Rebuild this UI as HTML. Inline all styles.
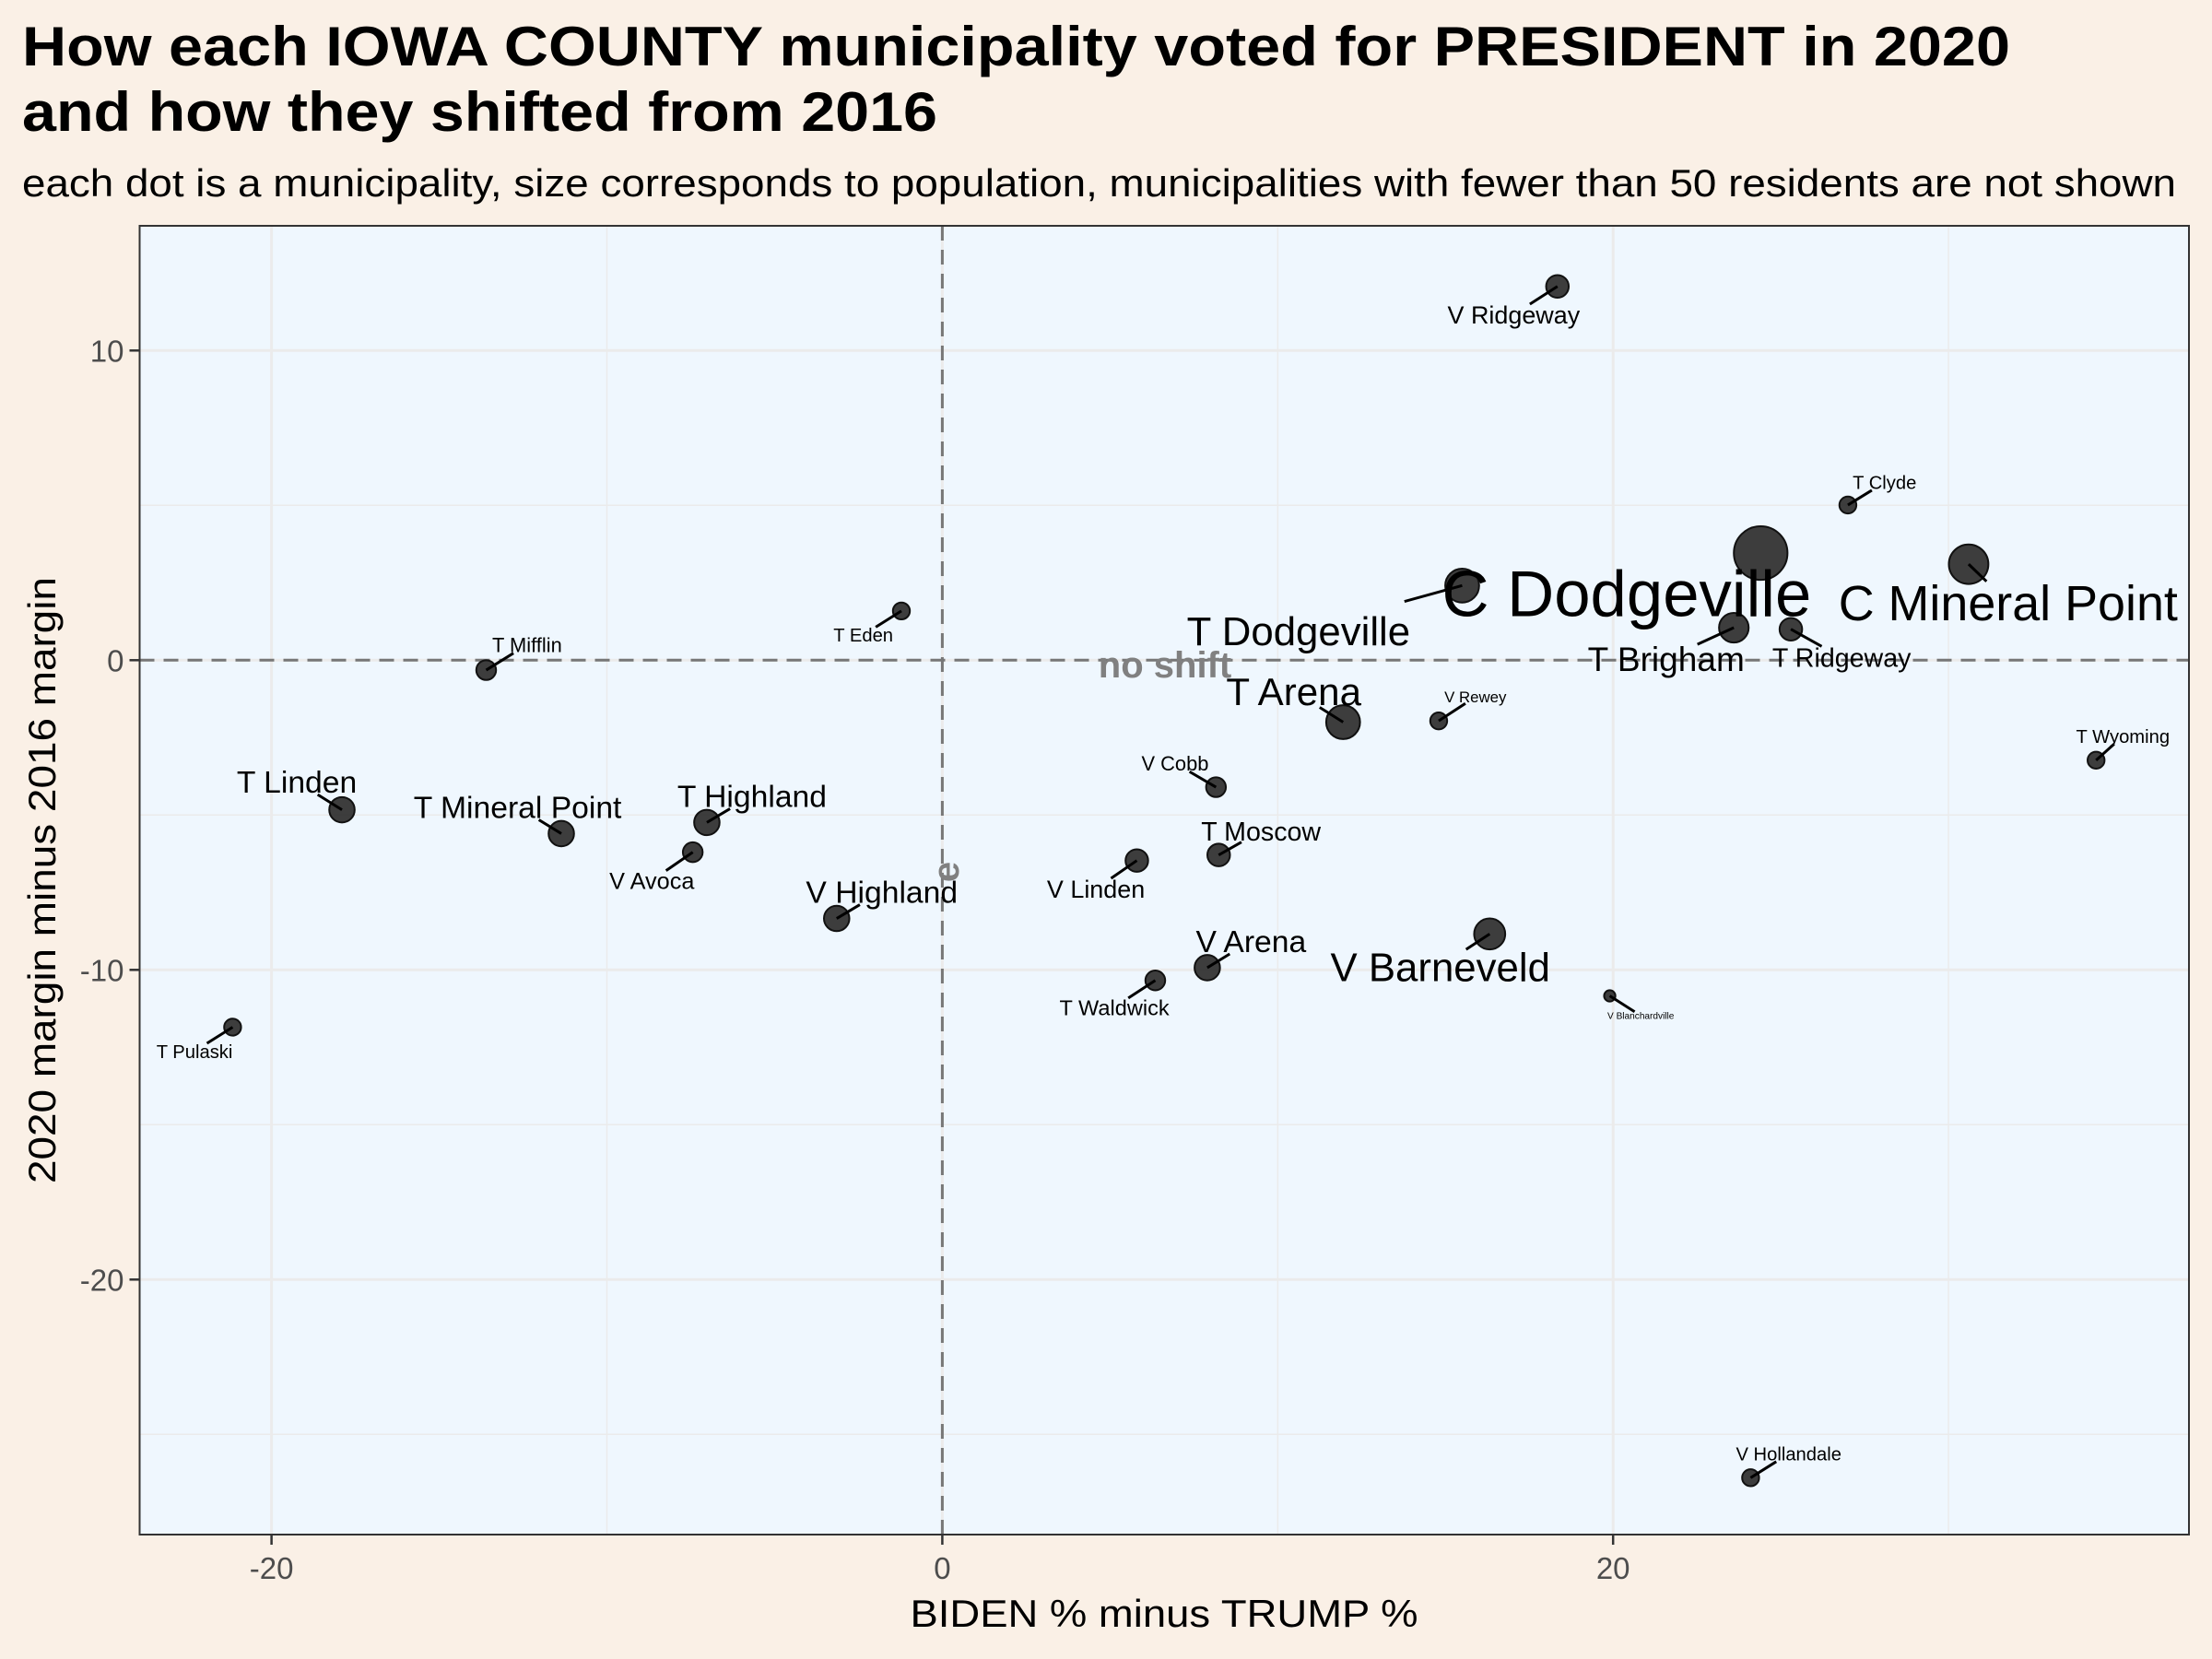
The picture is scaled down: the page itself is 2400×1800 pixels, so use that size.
<!DOCTYPE html>
<html><head><meta charset="utf-8"><style>
html,body{margin:0;padding:0;background:#faf0e6;}
svg{display:block;font-family:"Liberation Sans",sans-serif;}
</style></head><body>
<svg id="chart" width="2400" height="1800" viewBox="0 0 2400 1800" xmlns="http://www.w3.org/2000/svg">
<rect width="2400" height="1800" fill="#faf0e6"/>
<text x="24" y="71" font-size="60" font-weight="bold" fill="#000" textLength="2157" lengthAdjust="spacingAndGlyphs">How each IOWA COUNTY municipality voted for PRESIDENT in 2020</text>
<text x="24" y="142" font-size="60" font-weight="bold" fill="#000" textLength="993" lengthAdjust="spacingAndGlyphs">and how they shifted from 2016</text>
<text x="24" y="213" font-size="42" fill="#000" textLength="2337" lengthAdjust="spacingAndGlyphs">each dot is a municipality, size corresponds to population, municipalities with fewer than 50 residents are not shown</text>
<g id="plot"></g>
</svg>
<script>
const names = ["V Ridgeway","T Clyde","C Dodgeville","C Mineral Point","T Dodgeville","T Brigham","T Ridgeway","T Eden","T Mifflin","V Rewey","T Arena","T Wyoming","V Cobb","T Linden","T Highland","T Mineral Point","V Avoca","V Linden","T Moscow","V Highland","V Barneveld","V Arena","T Waldwick","V Blanchardville","T Pulaski","V Hollandale"];
const xValues = [18.34,27.0,24.4,30.6,15.5,23.6,25.3,-1.22,-13.6,14.8,11.95,34.4,8.16,-17.9,-7.02,-11.36,-7.44,5.8,8.24,-3.15,16.32,7.9,6.35,19.9,-21.16,24.1];
const yValues = [12.07,5.01,3.46,3.10,2.41,1.05,1.0,1.59,-0.32,-1.96,-2.0,-3.23,-4.1,-4.83,-5.24,-5.6,-6.2,-6.47,-6.29,-8.34,-8.84,-9.93,-10.34,-10.84,-11.85,-26.4];
const popSize = [8,6,19,14,12,10.5,8,6,7,6,12,6,7,9,9,9,7,8,8,9,11,9,7,4,6,6];
const xTicks = [-20,0,20];
const yTicks = [10,0,-10,-20];
const xMinor = [-10,10,30];
const yMinor = [5,-5,-15,-25];
// label layout (display units relative to point) and font sizes
const labDX = [-31,26,-95,28,-116,-48,36,-27,29,26,-35,19,-29,-32,32,-31,-29,-29,30,32,-35,31,-29,22,-27,27];
const labDY = [20,-16,28,27,32,22,20,17,-18,-17,-22,-17,-17,-20,-19,-19,20,20,-17,-19,23,-19,19,14,17,-17];
const labSize = [16,12,42,32,26,22,17,12,13,10,25,12,13,20,20,20,15,16,17,20,26,20,14,6,12,12];

const S = 1.5306;
const L=151.5, R=2375, T=245, B=1665;
const sx = v => 1022.4 + v*(727.8/20);
const sy = v => 716.3 - v*(336/10);
const NS='http://www.w3.org/2000/svg';
const g=document.getElementById('plot');
function mk(tag, attrs, parent){const e=document.createElementNS(NS,tag);for(const k in attrs)e.setAttribute(k,attrs[k]);(parent||g).appendChild(e);return e;}

const panel=mk('rect',{x:L,y:T,width:R-L,height:B-T,fill:'#eff7fe'});


const grid=mk('g',{});


xMinor.forEach(v=>mk('line',{x1:sx(v),x2:sx(v),y1:T,y2:B,stroke:'#ebebeb','stroke-width':1.5},grid));
yMinor.forEach(v=>mk('line',{y1:sy(v),y2:sy(v),x1:L,x2:R,stroke:'#ebebeb','stroke-width':1.5},grid));
xTicks.forEach(v=>mk('line',{x1:sx(v),x2:sx(v),y1:T,y2:B,stroke:'#ebebeb','stroke-width':3},grid));
yTicks.forEach(v=>mk('line',{y1:sy(v),y2:sy(v),x1:L,x2:R,stroke:'#ebebeb','stroke-width':3},grid));

const h=mk('line',{x1:L,x2:R,y1:sy(0),y2:sy(0),stroke:'#777','stroke-width':3,'stroke-dasharray':'16 10'});


const v0=mk('line',{x1:sx(0),x2:sx(0),y1:T,y2:B,stroke:'#777','stroke-width':3,'stroke-dasharray':'16 10'});


const ns=mk('text',{x:1264,y:735,'font-size':40,'font-weight':'bold',fill:'#808080','text-anchor':'middle'});
ns.textContent='no shift';


const ve=mk('text',{x:1040,y:946,'font-size':40,'font-weight':'bold',fill:'#808080','text-anchor':'middle',transform:'rotate(-90 1040 946)'});
ve.textContent='e';



// points
const pts=mk('g',{});


xValues.forEach((xv,i)=>{
  const c=mk('circle',{cx:sx(xv),cy:sy(yValues[i]),r:popSize[i]*S,fill:'#333',stroke:'#111','stroke-width':2,'fill-opacity':0.95},pts);
  
  
});
// labels
const labs=mk('g',{});


names.forEach((n,i)=>{
  const px=sx(xValues[i]), py=sy(yValues[i]);
  const lx=px+labDX[i]*S, ly=py+labDY[i]*S;
  const fs=labSize[i]*S*1.1;
  const t=mk('text',{x:lx,y:ly+fs*0.36,'font-size':fs,'text-anchor':'middle',fill:'#000'},labs);
  t.textContent=n;
  
  
  const bb=t.getBBox();
  const hw=bb.width/2+2, hh=fs*0.42;
  const dx=px-lx, dy=py-ly;
  let k=Math.min(Math.abs(dx)>0?hw/Math.abs(dx):1e9, Math.abs(dy)>0?hh/Math.abs(dy):1e9);
  if(k<1 && i!==2){
    let ex=lx+dx*k, ey=ly+dy*k;
    const len=Math.hypot(ex-px,ey-py), maxL=65;
    if(len>maxL){ex=px+(ex-px)*maxL/len; ey=py+(ey-py)*maxL/len;}
    const s=mk('line',{x1:px,y1:py,x2:ex,y2:ey,stroke:'#000','stroke-width':3},labs);
    
    
  }
});

// border & axes
const border=mk('rect',{x:L,y:T,width:R-L,height:B-T,fill:'none',stroke:'#333','stroke-width':2});


const ax=mk('g',{});


xTicks.forEach(v=>{
  mk('line',{x1:sx(v),x2:sx(v),y1:B,y2:B+11,stroke:'#333','stroke-width':2.5},ax);
  const t=mk('text',{x:sx(v),y:B+48,'font-size':33,fill:'#4d4d4d','text-anchor':'middle'},ax);
  t.textContent=v;
  
  
});
const ay=mk('g',{});


yTicks.forEach(v=>{
  mk('line',{x1:L-11,x2:L,y1:sy(v),y2:sy(v),stroke:'#333','stroke-width':2.5},ay);
  const t=mk('text',{x:L-17,y:sy(v)+12,'font-size':33,fill:'#4d4d4d','text-anchor':'end'},ay);
  t.textContent=v;
  
  
});
const xt=mk('text',{x:1263,y:1765,'font-size':42,'text-anchor':'middle',fill:'#000',textLength:551,lengthAdjust:'spacingAndGlyphs'});
xt.textContent='BIDEN % minus TRUMP %';


const yt=mk('text',{x:0,y:0,'font-size':42,'text-anchor':'middle',fill:'#000',textLength:658,lengthAdjust:'spacingAndGlyphs',transform:'translate(60 955) rotate(-90)'});
yt.textContent='2020 margin minus 2016 margin';


</script>
</body></html>
